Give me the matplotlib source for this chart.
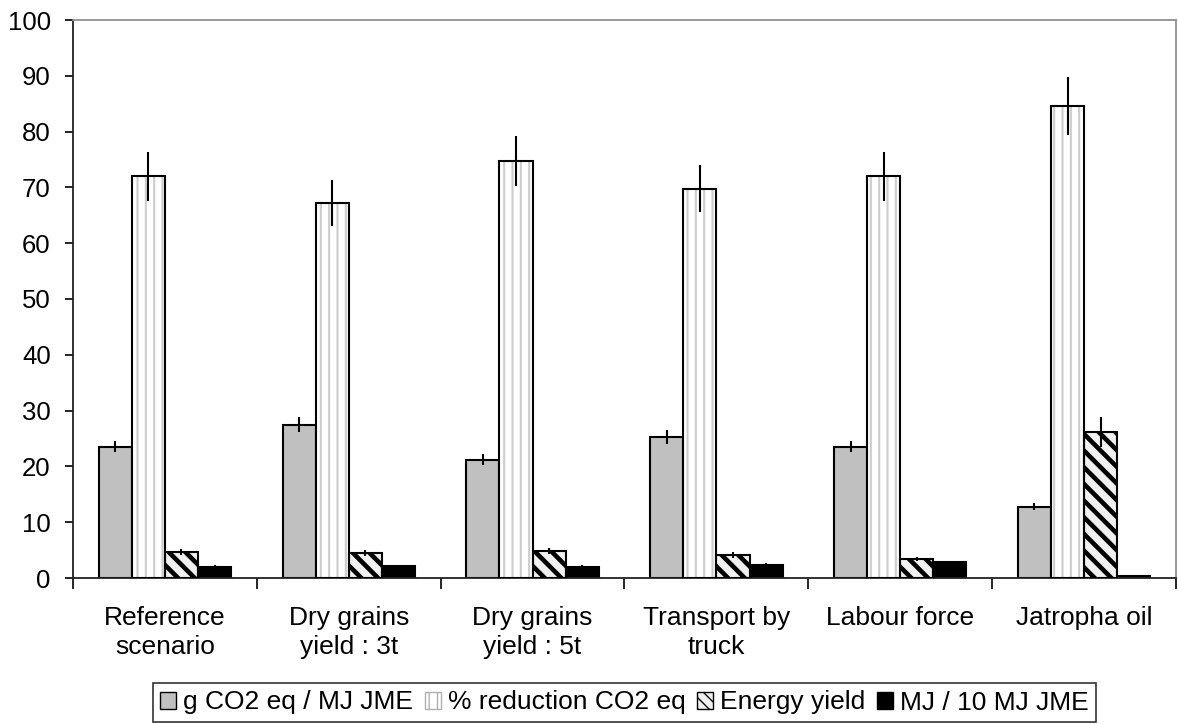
import matplotlib.pyplot as plt
import numpy as np
from matplotlib.patches import Patch

plt.rcParams['font.family'] = ['Liberation Sans', 'DejaVu Sans']

categories = ["Reference\nscenario", "Dry grains\nyield : 3t", "Dry grains\nyield : 5t",
              "Transport by\ntruck", "Labour force", "Jatropha oil"]
series = ["g CO2 eq / MJ JME", "% reduction CO2 eq", "Energy yield", "MJ / 10 MJ JME"]

ghg = [23.5, 27.5, 21.2, 25.3, 23.5, 12.8]
ghg_err = [1.0, 1.3, 1.0, 1.2, 1.0, 0.7]
reduction = [72.0, 67.2, 74.7, 69.8, 72.0, 84.6]
reduction_err = [4.4, 4.1, 4.5, 4.2, 4.4, 5.2]
energy = [4.7, 4.5, 4.8, 4.1, 3.4, 26.2]
energy_err = [0.5, 0.5, 0.5, 0.5, 0.3, 2.7]
mj = [2.0, 2.1, 2.0, 2.4, 2.8, 0.4]
mj_err = [0.3, 0.3, 0.3, 0.3, 0.3, 0.0]

fig = plt.figure(figsize=(11.78, 7.24), dpi=100)
ax = fig.add_axes([73/1178, 1-578/724, (1176-73)/1178, (578-20)/724])

x = np.arange(len(categories))
w = 0.18
offs = np.array([-1.5, -0.5, 0.5, 1.5]) * w

# gray solid bars
ax.bar(x + offs[0], ghg, w, color="#c0c0c0", edgecolor="black", linewidth=1.5, zorder=2)
# vertical stripes: white with thin light gray lines
with plt.rc_context({'hatch.linewidth': 1.5}):
    ax.bar(x + offs[1], reduction, w, color="white", edgecolor="#cccccc", hatch="||",
           linewidth=0, zorder=2)
ax.bar(x + offs[1], reduction, w, color="none", edgecolor="black", linewidth=1.5, zorder=3)
# diagonal hatch, thick lines
with plt.rc_context({'hatch.linewidth': 3.3}):
    ax.bar(x + offs[2], energy, w, color="#f0f0f0", edgecolor="black", hatch="\\\\",
           linewidth=0, zorder=2)
ax.bar(x + offs[2], energy, w, color="none", edgecolor="black", linewidth=1.5, zorder=3)
# black
ax.bar(x + offs[3], mj, w, color="black", edgecolor="black", linewidth=1.5, zorder=2)

for o, v, e in zip(offs, [ghg, reduction, energy, mj], [ghg_err, reduction_err, energy_err, mj_err]):
    ax.errorbar(x + o, v, yerr=e, fmt="none", ecolor="black", elinewidth=1.5, capsize=0, zorder=4)

ax.set_xlim(-0.5, len(categories) - 0.5)
ax.set_ylim(0, 100)
ax.set_yticks(np.arange(0, 101, 10))
ax.set_xticks(x)
ax.set_xticklabels(categories, fontsize=19, linespacing=1.29)
ax.set_xticks(np.arange(-0.5, len(categories), 1), minor=True)
ax.tick_params(axis="x", which="major", length=0, pad=20)
ax.tick_params(axis="x", which="minor", length=8, width=1.2, direction="out")
ax.tick_params(axis="y", labelsize=18.5, length=6, width=1.2, direction="out", pad=10)

for s in ["left", "bottom"]:
    ax.spines[s].set_linewidth(1.3)
    ax.spines[s].set_color("#222222")
for s in ["top", "right"]:
    ax.spines[s].set_linewidth(1.3)
    ax.spines[s].set_color("#909090")

with plt.rc_context({'hatch.linewidth': 2.0}):
    handles = [
        Patch(facecolor="#c0c0c0", edgecolor="black", linewidth=1),
        Patch(facecolor="white", edgecolor="#b0b0b0", hatch="||", linewidth=1),
        Patch(facecolor="#f0f0f0", edgecolor="black", hatch="\\\\\\", linewidth=1),
        Patch(facecolor="black", edgecolor="black", linewidth=1),
    ]
leg = fig.legend(handles, series, loc="center", bbox_to_anchor=(624.5/1178, 1-702.5/724),
                 ncol=4, fontsize=19, frameon=True, fancybox=False, edgecolor="black",
                 handlelength=0.6, handleheight=0.6, handletextpad=0.27, columnspacing=0.45,
                 borderpad=0.27, borderaxespad=0)
leg.get_frame().set_linewidth(1.2)

plt.savefig("out.png", dpi=100)
